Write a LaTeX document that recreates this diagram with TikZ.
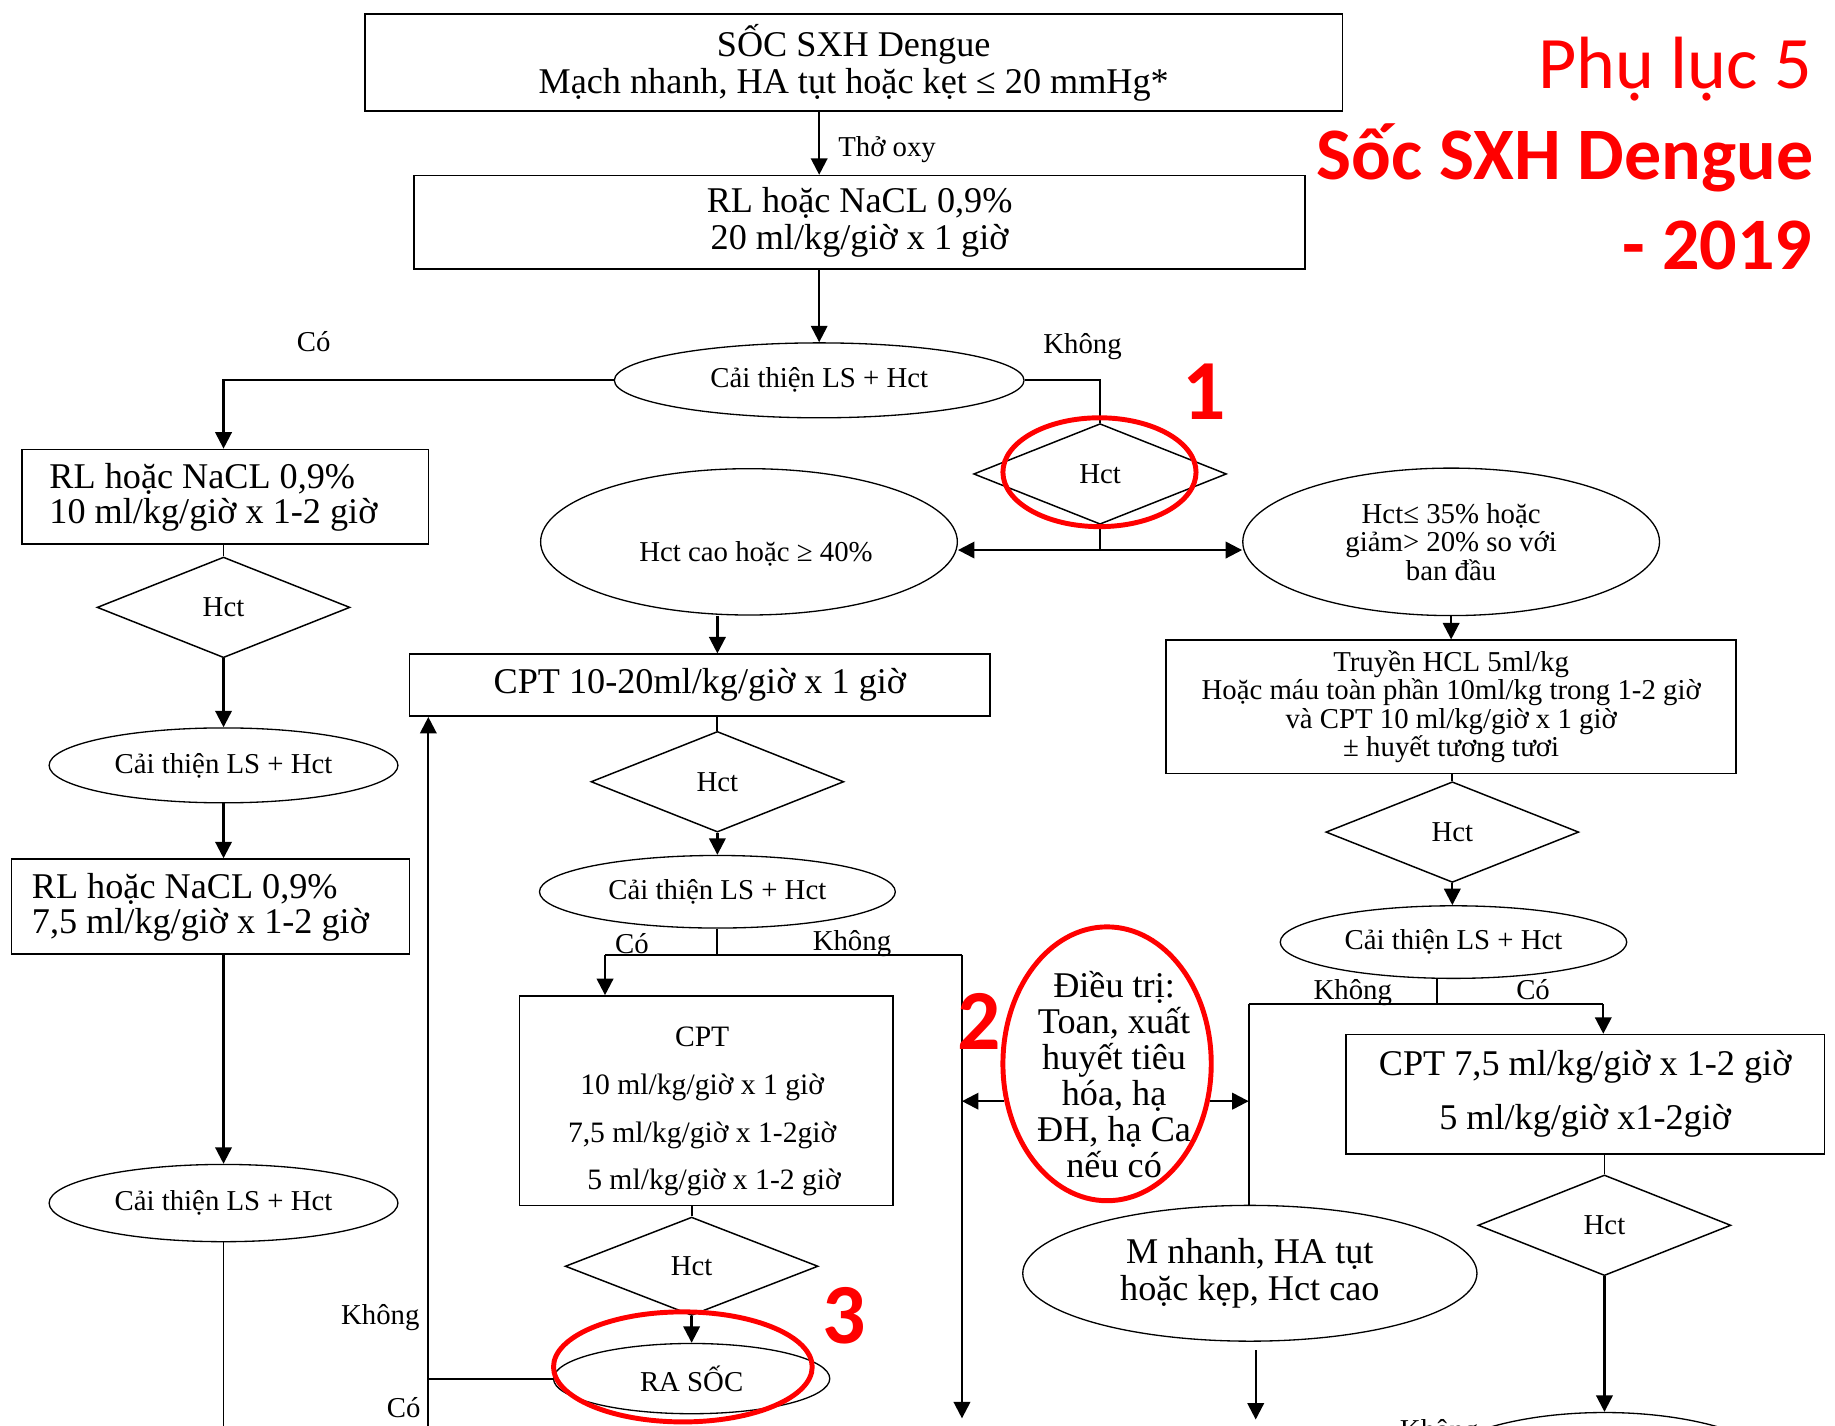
\documentclass[tikz,border=0pt]{standalone}
\usepackage{fontspec}
\setmainfont{Liberation Serif}
\newfontfamily\calib{Carlito}
\usetikzlibrary{shapes.geometric,arrows.meta,calc}
\newcommand\fsz[2]{\fontsize{#1}{#2}\selectfont}

\begin{document}
\begin{tikzpicture}[x=0.025cm,y=-0.025cm,
  box/.style={draw, rectangle, inner sep=0pt, align=center, line width=0.9pt},
  oval/.style={draw, ellipse, inner sep=0pt, align=center, line width=0.8pt, font=\fsz{17.5}{18}},
  hct/.style={draw, diamond, inner sep=0pt, minimum width=5.4cm, minimum height=2.15cm, font=\fsz{17.5}{18}, line width=0.9pt},
  arr/.style={line width=1.4pt, -{Triangle[length=10pt,width=10pt]}},
  link/.style={line width=1.1pt},
  lbl/.style={font=\fsz{17.5}{18}, inner sep=0pt},
  redring/.style={draw=red, line width=3pt, ellipse, inner sep=0pt},
  rednum/.style={text=red, font=\calib\bfseries\fsz{52}{52}, inner sep=0pt},
  redtitle/.style={anchor=base east, text=red, inner sep=0pt},
]
\useasboundingbox (0,0) rectangle (1568,1218);
\fill[white] (0,0) rectangle (1568,1218);
\clip (0,0) rectangle (1568,1218);

% ---- main trunk ----
\node[box, minimum width=20.875cm, minimum height=2.075cm, font=\fsz{22}{22.8}] (top) at (729.5,53.5)
  {SỐC SXH Dengue\\Mạch nhanh, HA tụt hoặc kẹt ≤ 20 mmHg*};
\node[box, minimum width=19.025cm, minimum height=2cm, font=\fsz{22}{22}] (b1) at (734.5,190)
  {RL hoặc NaCL 0,9\%\\20 ml/kg/giờ x 1 giờ};
\node[oval, minimum width=8.75cm, minimum height=1.6cm] (e1) at (700,325) {Cải thiện LS + Hct};
\node[hct] (d1) at (940,405) {Hct};
\node[oval, minimum width=8.9cm, minimum height=3.125cm] (e2) at (640,463) {};
\node[lbl] (e2t) at (646,473) {Hct cao hoặc ≥ 40\%};
\node[oval, minimum width=8.9cm, minimum height=3.15cm, font=\fsz{17.5}{17.4}] (e3) at (1240,463)
  {Hct≤ 35\% hoặc\\giảm> 20\% so với\\ban đầu};

% ---- left column ----
\node[box, minimum width=8.675cm, minimum height=2.025cm] (l1) at (192.5,424.5) {};
\node[anchor=west, align=left, inner sep=0pt, font=\fsz{22}{21.3}] (l1t) at (42,425)
  {RL hoặc NaCL 0,9\%\\10 ml/kg/giờ x 1-2 giờ};
\node[hct] (ld1) at (191,519) {Hct};
\node[oval, minimum width=7.45cm, minimum height=1.6cm] (le1) at (191,654) {Cải thiện LS + Hct};
\node[box, minimum width=8.5cm, minimum height=2.025cm] (l2) at (180,774.5) {};
\node[anchor=west, align=left, inner sep=0pt, font=\fsz{22}{21.3}] (l2t) at (27,775)
  {RL hoặc NaCL 0,9\%\\7,5 ml/kg/giờ x 1-2 giờ};
\node[oval, minimum width=7.45cm, minimum height=1.65cm] (le2) at (191,1028) {Cải thiện LS + Hct};

% ---- middle column ----
\node[box, minimum width=12.4cm, minimum height=1.325cm, font=\fsz{22}{22}] (c1) at (598,585.5)
  {CPT 10-20ml/kg/giờ x 1 giờ};
\node[hct] (md1) at (613,668) {Hct};
\node[oval, minimum width=7.6cm, minimum height=1.55cm] (me1) at (613,762) {Cải thiện LS + Hct};
\node[box, minimum width=7.975cm, minimum height=4.475cm] (c2) at (603.5,940.5) {};
\node[align=center, inner sep=0pt, font=\fsz{18}{29}] (c2t) at (600,950)
  {CPT\\10 ml/kg/giờ x 1 giờ\\7,5 ml/kg/giờ x 1-2giờ\\\hspace*{0.8em}5 ml/kg/giờ x 1-2 giờ};
\node[hct, minimum height=2.1cm] (md2) at (591,1082) {Hct};
\node[oval, minimum width=5.9cm, minimum height=1.5cm] (ra) at (591,1178) {RA SỐC};

% ---- right column ----
\node[box, minimum width=12.175cm, minimum height=2.85cm, font=\fsz{17.5}{17.3}] (r1) at (1240,604)
  {Truyền HCL 5ml/kg\\Hoặc máu toàn phần 10ml/kg trong 1-2 giờ\\và CPT 10 ml/kg/giờ x 1 giờ\\± huyết tương tươi};
\node[hct] (rd1) at (1241,711) {Hct};
\node[oval, minimum width=7.4cm, minimum height=1.55cm] (re1) at (1242,805) {Cải thiện LS + Hct};
\node[box, minimum width=10.225cm, minimum height=2.55cm, font=\fsz{22}{32.7}] (r2) at (1354.5,935)
  {CPT 7,5 ml/kg/giờ x 1-2 giờ\\5 ml/kg/giờ x1-2giờ};
\node[hct] (rd2) at (1371,1047) {Hct};
\node[oval, minimum width=9.7cm, minimum height=2.9cm, font=\fsz{22}{22}] (mn) at (1068,1088)
  {M nhanh, HA tụt\\hoặc kẹp, Hct cao};
\node[oval, minimum width=8cm, minimum height=3cm] (be) at (1371,1267) {};

% ---- supportive treatment ----
\node[align=center, inner sep=0pt, font=\fsz{22}{21.9}] (dt) at (952,918)
  {Điều trị:\\Toan, xuất\\huyết tiêu\\hóa, hạ\\ĐH, hạ Ca\\nếu có};
\node[redring, draw=none, minimum width=4.45cm, minimum height=5.85cm] (ring2) at (946,909) {};

% ---- junction points ----
\coordinate (dj) at (940,470);
\coordinate (bl) at (517,816);
\coordinate (br) at (822,816);
\coordinate (bdown) at (822,1212);
\coordinate (lbot) at (366,1230);
\coordinate (lend) at (191,1230);
\coordinate (rj) at (1228,858);
\coordinate (rl) at (1067,858);
\coordinate (rr) at (1370,858);
\coordinate (mnout) at (1073,1213);

% ---- connectors ----
\draw[arr] (top.south -| e1) -- (b1.north -| e1);
\draw[arr] (b1.south -| e1) -- (e1.north);
\draw[arr] (e1.west) -| (l1.north -| ld1);
\draw[link] (e1.east) -| (d1.north);
\draw[link] (d1.south) -- (dj);
\draw[arr] (dj) -- (dj -| e2.east);
\draw[arr] (dj) -- (dj -| e3.west);

\draw[link] (l1.south -| ld1) -- (ld1.north);
\draw[arr] (ld1.south) -- (le1.north);
\draw[arr] (le1.south) -- (le1.south |- l2.north);
\draw[arr] (le1.south |- l2.south) -- (le2.north);
\draw[link] (le2.south) -- (lend);

\draw[arr] (e2.south -| md1) -- (c1.north -| md1);
\draw[link] (c1.south -| md1) -- (md1.north);
\draw[arr] (md1.south) -- (me1.north);
\draw[link] (me1.south) -- (me1.south |- bl);
\draw[link] (bl) -- (br);
\draw[arr] (bl) -- (bl |- c2.north);
\draw[arr] (br) -- (bdown);
\draw[link] (c2.south -| md2) -- (md2.north);
\draw[arr] (md2.south) -- (ra.north);
\draw[arr] (lbot) -- (lbot |- c1.south);
\draw[link] (ra.west) -- (ra.west -| lbot);

\draw[arr] (ring2.200) -- (ring2.200 -| br);
\draw[arr] (ring2.-20) -- (ring2.-20 -| rl);

\draw[arr] (e3.south) -- (r1.north);
\draw[link] (r1.south -| rd1) -- (rd1.north);
\draw[arr] (rd1.south) -- (rd1.south |- re1.north);
\draw[link] (rj |- re1.south) -- (rj);
\draw[link] (rl) -- (rr);
\draw[arr] (rr) -- (rr |- r2.north);
\draw[link] (rl) -- (rl |- mn.north);
\draw[link] (r2.south -| rd2) -- (rd2.north);
\draw[arr] (rd2.south) -- (be.north);
\draw[arr] (mn.south -| mnout) ++(0,7) -- (mnout);

% ---- branch labels ----
\node[lbl] (yes1) at (268,292) {Có};
\node[lbl] (no1) at (925,296) {Không};
\node[lbl, anchor=west] (oxy) at (716,128) {Thở oxy};
\node[lbl] (yes2) at (540,806) {Có};
\node[lbl] (no2) at (728,806) {Không};
\node[lbl] (no3) at (1156,848) {Không};
\node[lbl] (yes3) at (1310,846) {Có};
\node[lbl] (no4) at (325,1126) {Không};
\node[lbl] (yes4) at (345,1203) {Có};
\node[lbl, anchor=base west] (no5) at (1196,1230) {Không};

% ---- red highlights ----
\node[redring, minimum width=4.125cm, minimum height=2.325cm] (ring1) at (939.5,403.5) {};
\draw[red, line width=3pt] (ring2.center) ellipse [x radius=89, y radius=117];
\node[redring, minimum width=5.525cm, minimum height=2.35cm] (ring3) at (583.5,1168) {};
\node[rednum] (n1) at (1029,335) {1};
\node[rednum] (n2) at (837,873) {2};
\node[rednum] (n3) at (721,1124) {3};

\node[redtitle, font=\calib\fsz{45}{45}] (t1) at (1549,76) {Phụ lục 5};
\node[redtitle, font=\calib\bfseries\fsz{45}{45}] (t2) at (1550,153) {Sốc SXH Dengue};
\node[redtitle, font=\calib\bfseries\fsz{45}{45}] (t3) at (1549,230) {- 2019};
\end{tikzpicture}
\end{document}
